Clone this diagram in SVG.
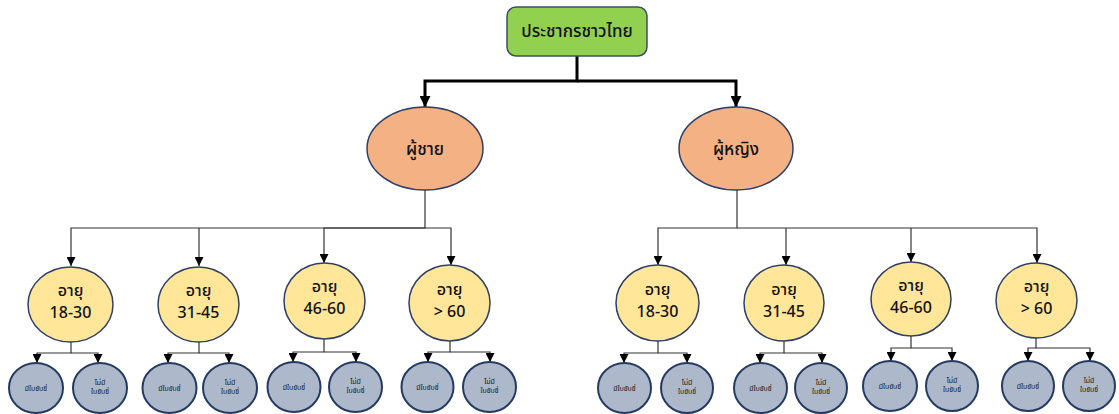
<svg xmlns="http://www.w3.org/2000/svg" width="1119" height="414" viewBox="0 0 1119 414">
<defs>
<marker id="big" markerUnits="userSpaceOnUse" markerWidth="11" markerHeight="11" viewBox="0 0 11 11" refX="11" refY="5.5" orient="auto">
<path d="M0,0 L11,5.5 L0,11 Z" fill="#000"/>
</marker>
<marker id="sm" markerUnits="userSpaceOnUse" markerWidth="9" markerHeight="9" viewBox="0 0 9 9" refX="9" refY="4.5" orient="auto">
<path d="M0,0 L9,4.5 L0,9 Z" fill="#000"/>
</marker>
<style>
text{font-family:"Noto Sans Thai","Noto Sans","DejaVu Sans",sans-serif;fill:#111;text-anchor:middle}
.root{fill:#92D050;stroke:#3B4E6E;stroke-width:1.5}
.sex{fill:#F4B183;stroke:#2F3F66;stroke-width:1.5}
.age{fill:#FFE699;stroke:#2F3F66;stroke-width:1.5}
.lic{fill:#ADB9CA;stroke:#243A63;stroke-width:2}
.thick{fill:none;stroke:#000;stroke-width:3}
.thin{fill:none;stroke:#333;stroke-width:1.2}
.t1{font-size:17px;font-weight:500}
.t2{font-size:16px;font-weight:500}
.t3{font-size:7px}
</style>
</defs>
<g id="connectors">
<path class="thick" d="M577,56 V81 H425 V107" marker-end="url(#big)"/>
<path class="thick" d="M577,81 H736 V107" marker-end="url(#big)"/>
<path class="thin" d="M425,190 V228 H71 V266" marker-end="url(#sm)"/>
<path class="thin" d="M199,228 V266" marker-end="url(#sm)"/>
<path class="thin" d="M425,228 H324 V263" marker-end="url(#sm)"/>
<path class="thin" d="M425,228 H451 V265" marker-end="url(#sm)"/>
<path class="thin" d="M737,190 V228 H658 V265" marker-end="url(#sm)"/>
<path class="thin" d="M737,228 H1037 V263" marker-end="url(#sm)"/>
<path class="thin" d="M786,228 V265" marker-end="url(#sm)"/>
<path class="thin" d="M911,228 V262" marker-end="url(#sm)"/>
<path class="thin" d="M71,342 V353 H37 V363" marker-end="url(#sm)"/>
<path class="thin" d="M71,353 H98 V363" marker-end="url(#sm)"/>
<path class="thin" d="M199,342 V353 H168 V363" marker-end="url(#sm)"/>
<path class="thin" d="M199,353 H229 V363" marker-end="url(#sm)"/>
<path class="thin" d="M324,339 V352 H293 V362" marker-end="url(#sm)"/>
<path class="thin" d="M324,352 H356 V362" marker-end="url(#sm)"/>
<path class="thin" d="M450,341 V352 H428 V362" marker-end="url(#sm)"/>
<path class="thin" d="M450,352 H490 V362" marker-end="url(#sm)"/>
<path class="thin" d="M658,341 V353 H624 V363" marker-end="url(#sm)"/>
<path class="thin" d="M658,353 H687 V363" marker-end="url(#sm)"/>
<path class="thin" d="M784,341 V353 H760 V363" marker-end="url(#sm)"/>
<path class="thin" d="M784,353 H822 V363" marker-end="url(#sm)"/>
<path class="thin" d="M911,336 V348 H891 V361" marker-end="url(#sm)"/>
<path class="thin" d="M911,348 H952 V361" marker-end="url(#sm)"/>
<path class="thin" d="M1036,338 V348 H1028 V361" marker-end="url(#sm)"/>
<path class="thin" d="M1036,348 H1090 V361" marker-end="url(#sm)"/>
</g>
<g id="root"><rect class="root" x="507" y="7" width="140" height="49" rx="9"/><text class="t1" x="577" y="37">ประชากรชาวไทย</text></g>
<g id="male"><ellipse class="sex" cx="425" cy="148.5" rx="58" ry="41.5"/><text class="t1" x="425" y="155">ผู้ชาย</text></g>
<g id="female"><ellipse class="sex" cx="736" cy="148.5" rx="57" ry="41.5"/><text class="t1" x="736" y="155">ผู้หญิง</text></g>
<g id="m1"><ellipse class="age" cx="70.5" cy="304.5" rx="42.5" ry="37.5"/><text class="t2" x="70.5" y="296">อายุ</text><text class="t2" x="70.5" y="318">18-30</text></g>
<g id="m2"><ellipse class="age" cx="198.5" cy="304.5" rx="40.5" ry="37.5"/><text class="t2" x="198.5" y="296">อายุ</text><text class="t2" x="198.5" y="318">31-45</text></g>
<g id="m3"><ellipse class="age" cx="324.5" cy="301" rx="40.5" ry="38"/><text class="t2" x="324.5" y="292">อายุ</text><text class="t2" x="324.5" y="314">46-60</text></g>
<g id="m4"><ellipse class="age" cx="449.5" cy="303" rx="40.5" ry="38"/><text class="t2" x="449.5" y="295">อายุ</text><text class="t2" x="449.5" y="317">&gt; 60</text></g>
<g id="f1"><ellipse class="age" cx="657.5" cy="303" rx="41.5" ry="38"/><text class="t2" x="657.5" y="295">อายุ</text><text class="t2" x="657.5" y="317">18-30</text></g>
<g id="f2"><ellipse class="age" cx="784" cy="303" rx="40" ry="38"/><text class="t2" x="784" y="295">อายุ</text><text class="t2" x="784" y="317">31-45</text></g>
<g id="f3"><ellipse class="age" cx="911" cy="299" rx="40" ry="37"/><text class="t2" x="911" y="291">อายุ</text><text class="t2" x="911" y="313">46-60</text></g>
<g id="f4"><ellipse class="age" cx="1036.5" cy="300.5" rx="40.5" ry="37.5"/><text class="t2" x="1036.5" y="292">อายุ</text><text class="t2" x="1036.5" y="314">&gt; 60</text></g>
<g id="m1a"><ellipse class="lic" cx="36" cy="388" rx="27" ry="25"/><text class="t3" x="36" y="391">มีใบขับขี่</text></g>
<g id="m1b"><ellipse class="lic" cx="100" cy="388" rx="27" ry="25"/><text class="t3" x="100" y="385">ไม่มี</text><text class="t3" x="100" y="394">ใบขับขี่</text></g>
<g id="m2a"><ellipse class="lic" cx="169.5" cy="388" rx="27" ry="25"/><text class="t3" x="169.5" y="391">มีใบขับขี่</text></g>
<g id="m2b"><ellipse class="lic" cx="230" cy="388" rx="27" ry="25"/><text class="t3" x="230" y="385">ไม่มี</text><text class="t3" x="230" y="394">ใบขับขี่</text></g>
<g id="m3a"><ellipse class="lic" cx="294" cy="387" rx="26.5" ry="25"/><text class="t3" x="294" y="390">มีใบขับขี่</text></g>
<g id="m3b"><ellipse class="lic" cx="355.5" cy="387" rx="26.5" ry="25"/><text class="t3" x="355.5" y="384">ไม่มี</text><text class="t3" x="355.5" y="393">ใบขับขี่</text></g>
<g id="m4a"><ellipse class="lic" cx="427.5" cy="387" rx="26" ry="25"/><text class="t3" x="427.5" y="390">มีใบขับขี่</text></g>
<g id="m4b"><ellipse class="lic" cx="489.5" cy="387" rx="26.5" ry="25"/><text class="t3" x="489.5" y="384">ไม่มี</text><text class="t3" x="489.5" y="393">ใบขับขี่</text></g>
<g id="f1a"><ellipse class="lic" cx="624.5" cy="388" rx="26.5" ry="25"/><text class="t3" x="624.5" y="391">มีใบขับขี่</text></g>
<g id="f1b"><ellipse class="lic" cx="687" cy="388" rx="26" ry="25"/><text class="t3" x="687" y="385">ไม่มี</text><text class="t3" x="687" y="394">ใบขับขี่</text></g>
<g id="f2a"><ellipse class="lic" cx="760.5" cy="388" rx="26.5" ry="25"/><text class="t3" x="760.5" y="391">มีใบขับขี่</text></g>
<g id="f2b"><ellipse class="lic" cx="821" cy="388" rx="26" ry="25"/><text class="t3" x="821" y="385">ไม่มี</text><text class="t3" x="821" y="394">ใบขับขี่</text></g>
<g id="f3a"><ellipse class="lic" cx="890" cy="386" rx="27" ry="25"/><text class="t3" x="890" y="389">มีใบขับขี่</text></g>
<g id="f3b"><ellipse class="lic" cx="952" cy="386" rx="26" ry="25"/><text class="t3" x="952" y="383">ไม่มี</text><text class="t3" x="952" y="392">ใบขับขี่</text></g>
<g id="f4a"><ellipse class="lic" cx="1028" cy="386" rx="26" ry="25"/><text class="t3" x="1028" y="389">มีใบขับขี่</text></g>
<g id="f4b"><ellipse class="lic" cx="1089" cy="386" rx="26" ry="25"/><text class="t3" x="1089" y="383">ไม่มี</text><text class="t3" x="1089" y="392">ใบขับขี่</text></g>
</svg>
